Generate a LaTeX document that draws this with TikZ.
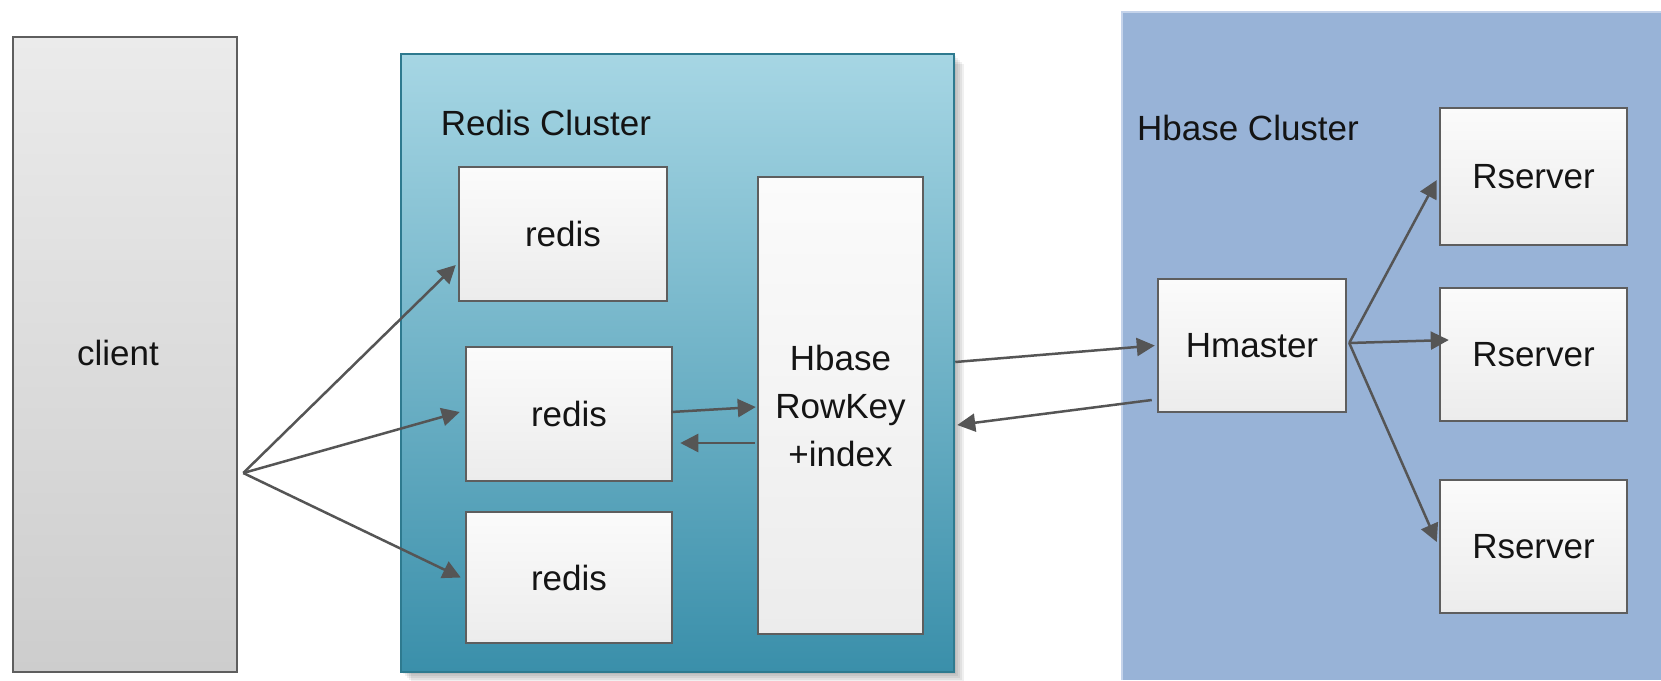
\documentclass[tikz,border=0pt]{standalone}
\usepackage{fontspec}
\setmainfont{Liberation Sans}
\usetikzlibrary{arrows.meta,calc}
\definecolor{txt}{HTML}{141414}
\definecolor{edge}{HTML}{5E5E5E}
\definecolor{arr}{HTML}{555555}
\definecolor{cltop}{HTML}{EBEBEB}
\definecolor{clbot}{HTML}{CDCDCD}
\definecolor{rdtop}{HTML}{A6D6E4}
\definecolor{rdbot}{HTML}{3A8FAA}
\definecolor{rdedge}{HTML}{2E7A8F}
\definecolor{bxtop}{HTML}{FBFBFB}
\definecolor{bxbot}{HTML}{ECECEC}
\definecolor{hbfill}{HTML}{98B3D7}
\definecolor{hbedge}{HTML}{C4D3EA}
\tikzset{
  lbl/.style={font=\fontsize{35}{48}\selectfont, text=txt, align=center, inner sep=0pt},
  box/.style={draw=edge, line width=2.5pt, top color=bxtop, bottom color=bxbot, inner sep=0pt,
    font=\fontsize{35}{48}\selectfont, text=txt, align=center},
  conn/.style={draw=arr, line width=2.5pt, -{Triangle[length=18pt,width=18pt]}},
}
\begin{document}
\begin{tikzpicture}[x=1pt,y=-1pt]
\useasboundingbox (0,0) rectangle (1661,680);
\fill[white] (0,0) rectangle (1661,680);
% Hbase cluster background
\fill[hbfill] (1122,12) rectangle (1661,680);
\draw[hbedge, line width=2pt] (1122,680) -- (1122,12) -- (1661,12);
\node[lbl] (hblabel) at (1248,128) {Hbase Cluster};
% client
\node[draw=edge, line width=2.5pt, top color=cltop, bottom color=clbot, inner sep=0pt,
  minimum width=224pt, minimum height=635pt] (client) at (125,354.5) {};
\node[lbl] (clientlbl) at (118,353) {client};
% soft shadow of the redis cluster
\foreach \s in {2,4,6,8,10}{
  \fill[black, opacity=0.06] (401+\s,54+\s) rectangle (954+\s,672+\s);
}
% redis cluster
\node[draw=rdedge, line width=2.5pt, top color=rdtop, bottom color=rdbot, inner sep=0pt,
  minimum width=553pt, minimum height=618pt] (rediscl) at (677.5,363) {};
\node[lbl] (rdlabel) at (546,123) {Redis Cluster};
\node[box, minimum width=208pt, minimum height=134pt] (redis1) at (563,234) {redis};
\node[box, minimum width=206pt, minimum height=134pt] (redis2) at (569,414) {redis};
\node[box, minimum width=206pt, minimum height=131pt] (redis3) at (569,577.5) {redis};
\node[box, minimum width=165pt, minimum height=457pt] (rowkey) at (840.5,405.5) {Hbase\\RowKey\\+index};
% hbase nodes
\node[box, minimum width=188pt, minimum height=133pt] (hmaster) at (1252,345.5) {Hmaster};
\node[box, minimum width=187pt, minimum height=137pt] (rs1) at (1533.5,176.5) {Rserver};
\node[box, minimum width=187pt, minimum height=133pt] (rs2) at (1533.5,354.5) {Rserver};
\node[box, minimum width=187pt, minimum height=133pt] (rs3) at (1533.5,546.5) {Rserver};
% connectors
\coordinate (cfan) at ([xshift=5pt,yshift=-118.5pt]client.east);
\draw[conn] (cfan) -- ([xshift=-2pt,yshift=-31pt]redis1.west);
\draw[conn] (cfan) -- ([xshift=-5pt,yshift=2pt]redis2.west);
\draw[conn] (cfan) -- ([xshift=-4pt]redis3.west);
\draw[conn] ([xshift=-2pt,yshift=2pt]redis2.east) -- ([xshift=-1pt,yshift=-1.5pt]rowkey.west);
\draw[conn] ([xshift=-2pt,yshift=-37.5pt]rowkey.west) -- ([xshift=7pt,yshift=-29pt]redis2.east);
\draw[conn] ([yshift=1pt]rediscl.east) -- ([xshift=-2pt]hmaster.west);
\draw[conn] ([xshift=-5pt,yshift=-54.5pt]hmaster.west) -- ([xshift=2pt,yshift=-62pt]rediscl.east);
\draw[conn] ([xshift=2pt,yshift=2.5pt]hmaster.east) -- ([xshift=-2pt,yshift=-3.5pt]rs1.west);
\draw[conn] ([xshift=2pt,yshift=2.5pt]hmaster.east) -- ([xshift=10pt,yshift=14.5pt]rs2.west);
\draw[conn] ([xshift=2pt,yshift=2.5pt]hmaster.east) -- ([xshift=-2pt,yshift=4.5pt]rs3.west);
\end{tikzpicture}
\end{document}
